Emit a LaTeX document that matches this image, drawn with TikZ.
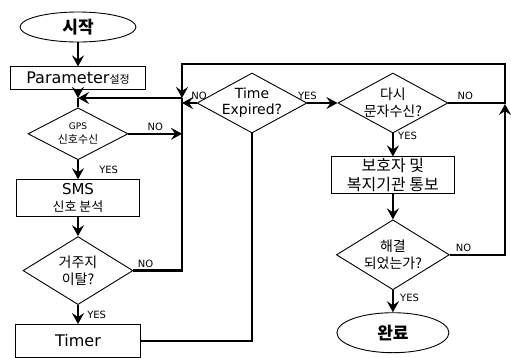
\documentclass[tikz,border=0pt]{standalone}
\usepackage{fontspec}
\setmainfont{DejaVu Sans}
\newfontfamily\kr{Noto Sans CJK KR}
\usetikzlibrary{positioning,arrows.meta,shapes.geometric}
\tikzset{
  term/.style={ellipse,draw=black,line width=0.9pt,inner sep=0pt,font=\kr\bfseries\fontsize{17}{18}\selectfont},
  proc/.style={rectangle,draw=black,line width=0.9pt,inner sep=1pt,align=center,font=\fontsize{16}{17}\selectfont},
  dec/.style={diamond,draw=black,line width=0.9pt,inner sep=0pt},
  dtxt/.style={align=center,inner sep=0pt,font=\kr\fontsize{14}{17}\selectfont},
  flow/.style={-{Stealth[length=11pt,width=12pt,inset=4pt]},line width=2.6pt,black},
  wire/.style={line width=2.6pt,black},
  lbl/.style={font=\fontsize{10}{11}\selectfont,inner sep=2pt},
}
\begin{document}
\begin{tikzpicture}[x=1pt,y=-1pt]
  \useasboundingbox (0,0) rectangle (511,357);
  % main column
  \node[term,minimum width=116pt,minimum height=30pt] (start) at (78,27) {시작};
  \node[proc,minimum width=135pt,minimum height=23pt,below=24pt of start] (param) {Parameter{\kr\fontsize{11}{12}\selectfont 설정}};
  \node[dec,minimum width=100pt,minimum height=52pt,below=17pt of param,
    label={[dtxt,font=\kr\fontsize{11}{14}\selectfont]center:{\rmfamily\fontsize{9}{11}\selectfont GPS}\\신호수신}] (gps) {};
  \node[proc,font=\fontsize{15}{17}\selectfont,minimum width=123pt,minimum height=37pt,below=19pt of gps] (sms) {SMS\\{\kr\fontsize{13}{14}\selectfont 신호 분석}};
  \node[dec,minimum width=110pt,minimum height=68pt,below=19pt of sms,label={[dtxt]center:거주지\\이탈?}] (leave) {};
  \node[proc,minimum width=125pt,minimum height=33pt,below=19pt of leave] (timer) {Timer};
  % timer check and report
  \node[dec,minimum width=110pt,minimum height=60pt,label={[dtxt,font=\fontsize{14}{16}\selectfont]center:Time\\Expired?}] (time) at (252,103) {};
  \node[dec,minimum width=110pt,minimum height=60pt,right=30pt of time,label={[dtxt]center:다시\\문자수신?}] (again) {};
  \node[proc,font=\kr\fontsize{16}{19}\selectfont,minimum width=123pt,minimum height=37pt,below=23pt of again] (notify) {보호자 및\\복지기관 통보};
  \node[dec,minimum width=113pt,minimum height=70pt,below=25pt of notify,label={[dtxt]center:해결\\되었는가?}] (solved) {};
  \node[term,minimum width=112pt,minimum height=40pt,below=22pt of solved] (done) {완료};
  % loop corners
  \coordinate (ltop) at (182,64);
  \coordinate (rtop) at (505,64);
  \coordinate (lin) at (182,98);
  \coordinate (rin) at (505,104);
  \coordinate (merge) at (param.south |- lin);
  \draw[flow] (start) -- (param);
  \draw[flow] (param) -- (merge);
  \draw[wire] (merge) -- (gps);
  \draw[flow] (gps) -- node[lbl,right,xshift=18pt]{YES} (sms);
  \draw[flow] (sms) -- (leave);
  \draw[flow] (leave) -- node[lbl,right,xshift=6pt]{YES} (timer);
  \draw[flow] (gps.east) -- node[lbl,above]{NO} (gps.east -| lin);
  \draw[wire] (leave.east) -- node[lbl,above,pos=0.25]{NO} (leave.east -| lin) -- (lin);
  \draw[flow] (again.east) -- node[lbl,above,pos=0.3]{NO} (again.east -| rtop) -- (rtop) -- (ltop) -- (lin);
  \draw[flow] (lin) -- (merge);
  \draw[flow] (time.west) -- node[lbl,above right,pos=1,xshift=6pt]{NO} (time.west -| lin);
  \draw[flow] (time.east) -- node[lbl,above,pos=0]{YES} (again.west);
  \draw[wire] (timer.east) -| (time.south);
  \draw[flow] (again) -- node[lbl,right,pos=0.1,xshift=2pt]{YES} (notify);
  \draw[flow] (notify) -- (solved);
  \draw[flow] (solved) -- node[lbl,right,pos=0.35,xshift=4pt]{YES} (done);
  \draw[flow] (solved.east) -- node[lbl,above,pos=0.25]{NO} (solved.east -| rin) -- (rin);
\end{tikzpicture}
\end{document}
